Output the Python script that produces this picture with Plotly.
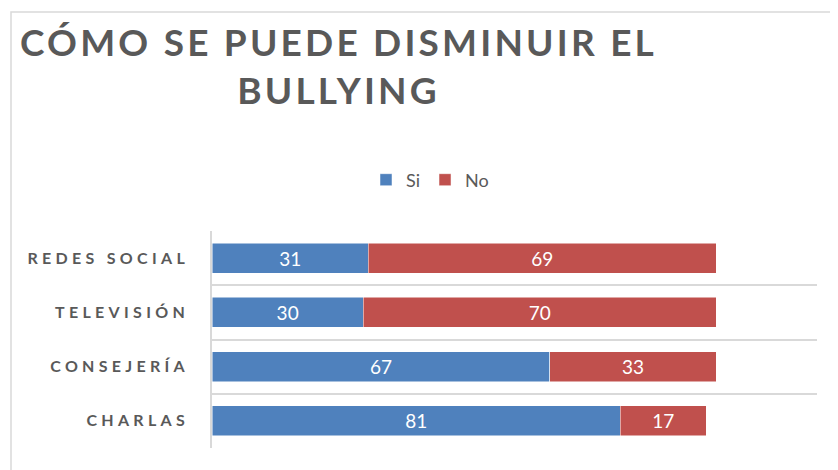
import plotly.graph_objects as go

categories = ["REDES SOCIAL", "TELEVISIÓN", "CONSEJERÍA", "CHARLAS"]
si_values = [31, 30, 67, 81]
no_values = [69, 70, 33, 17]
series_names = ["Si", "No"]
colors = ["#4F81BD", "#C0504D"]

FONT = "Lato"
GRAY = "#595959"
OFF = 8  # page body offset

L = 212 - OFF
T = 231 - OFF
PW = 605
PH = 217
PB = T + PH  # plot bottom in figure px

def spaced(t, px):
    return f'<span style="letter-spacing:{px}px">{t}</span>'

def px_x(x):
    return (x - OFF - L) / PW

def px_y(y):
    return (PB - (y - OFF)) / PH

fig = go.Figure()
for name, vals, col in zip(series_names, [si_values, no_values], colors):
    fig.add_trace(go.Bar(
        y=categories, x=vals, name=name, orientation="h",
        marker=dict(color=col, line=dict(color="white", width=0.5)),
        text=[str(v) for v in vals], textposition="inside",
        insidetextanchor="middle",
        textfont=dict(color="white", size=19, family=FONT),
        width=0.55,
    ))

fig.update_layout(
    width=838, height=470,
    barmode="stack",
    plot_bgcolor="white", paper_bgcolor="white",
    margin=dict(l=L, r=838 - L - PW, t=T, b=470 - T - PH, autoexpand=False),
    legend=dict(
        orientation="h", x=px_x(430), xanchor="center",
        y=px_y(180), yanchor="middle",
        font=dict(family=FONT, size=18, color=GRAY),
        itemwidth=30, traceorder="normal",
    ),
    xaxis=dict(range=[0, 120], showgrid=False, showticklabels=False,
               zeroline=False, showline=False, ticks=""),
    yaxis=dict(categoryorder="array", categoryarray=categories[::-1],
               tickson="boundaries", showgrid=True, gridcolor="#D9D9D9",
               gridwidth=1.5, showline=True, linecolor="#D9D9D9", linewidth=1.5,
               ticks="", ticklen=0, zeroline=False,
               tickmode="array", tickvals=categories,
               ticktext=[spaced(c, 4.3) for c in categories],
               tickfont=dict(family=FONT, size=16, color=GRAY, weight="bold"),
               ticklabelstandoff=18),
    annotations=[dict(
        text=spaced("CÓMO SE PUEDE DISMINUIR EL", 3.2) + "<br>" + spaced("BULLYING", 3.2),
        xref="paper", yref="paper", x=px_x(338), y=px_y(17),
        xanchor="center", yanchor="top", showarrow=False, align="center",
        font=dict(family=FONT, size=37, color=GRAY, weight="bold"),
    )],
    shapes=[dict(type="rect", xref="paper", yref="paper",
                 x0=px_x(11), x1=px_x(860),
                 y0=px_y(490), y1=px_y(12),
                 line=dict(color="#D9D9D9", width=1.5), layer="below")],
    bargap=0.45,
)

fig.write_html("out.html")
